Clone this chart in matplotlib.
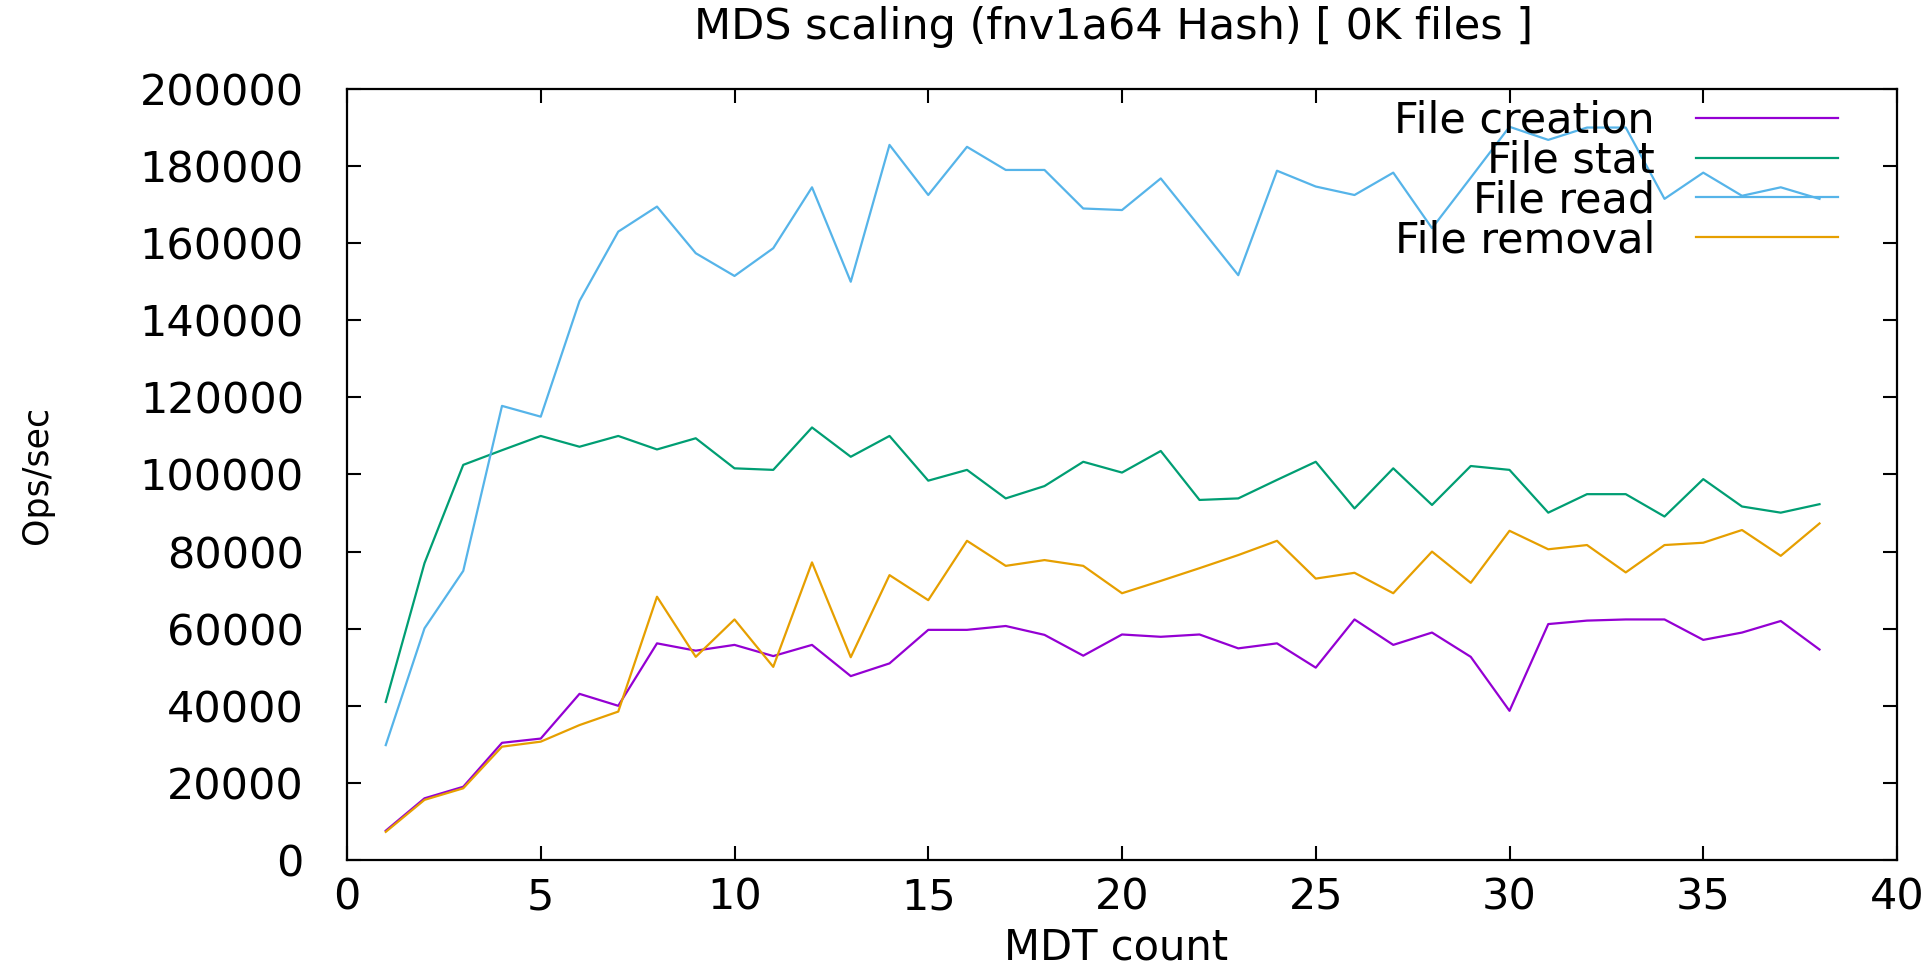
import matplotlib
matplotlib.use('Agg')
import matplotlib.pyplot as plt

# MDT count on x, ops/sec on y
mdt = list(range(1, 39))

creation = [7600, 16000, 19000, 30400, 31500, 43100, 40000, 56200, 54300, 55800,
            52900, 55800, 47700, 51000, 59700, 59700, 60700, 58400, 53000, 58500,
            57900, 58500, 54900, 56200, 49900, 62400, 55800, 59000, 52700, 38700,
            61200, 62100, 62400, 62400, 57100, 59000, 62000, 54600]
stat = [41000, 77000, 102500, 106300, 110000, 107200, 110000, 106500, 109400, 101600,
        101200, 112200, 104600, 110000, 98400, 101200, 93800, 97000, 103300, 100500,
        106100, 93400, 93800, 98600, 103300, 91200, 101600, 92100, 102200, 101200,
        90100, 94900, 94900, 89100, 98800, 91700, 90100, 92300]
read = [29800, 60100, 75000, 117800, 115000, 145000, 163000, 169500, 157400, 151500,
        158700, 174500, 150000, 185500, 172500, 185000, 179000, 179000, 169000, 168600,
        176800, 164300, 151700, 178800, 174700, 172500, 178300, 163900, 177000, 190200,
        186800, 190000, 190000, 171500, 178300, 172300, 174500, 171500]
removal = [7300, 15600, 18600, 29400, 30700, 35000, 38500, 68300, 52700, 62400,
           50100, 77200, 52600, 73900, 67400, 82800, 76300, 77800, 76300, 69200,
           72400, 75700, 79100, 82800, 73000, 74500, 69200, 80000, 71900, 85400,
           80600, 81700, 74600, 81700, 82300, 85600, 78900, 87300]

series_names = ['File creation', 'File stat', 'File read', 'File removal']
series_colors = ['#9400d3', '#009e73', '#56b4e9', '#e69f00']

xticks = list(range(0, 41, 5))
yticks = list(range(0, 200001, 20000))

plt.rcParams['font.family'] = ['DejaVu Sans']

fig = plt.figure(figsize=(19.33, 9.75), dpi=100)
ax = fig.add_axes([347 / 1933, 1 - 860 / 975, 1550 / 1933, 771 / 975])

for vals, name, col in zip([creation, stat, read, removal], series_names, series_colors):
    ax.plot(mdt, vals, color=col, lw=1.6, label=name)

ax.set_xlim(0, 40)
ax.set_ylim(0, 200000)
ax.set_xticks(xticks)
ax.set_yticks(yticks)
ax.set_xticklabels([str(t) for t in xticks])
ax.set_yticklabels([str(t) for t in yticks])
ax.tick_params(direction='in', length=10, width=1.5, top=True, right=True,
               labelsize=31, colors='black')
ax.tick_params(axis='y', pad=31)
ax.tick_params(axis='x', pad=12)
for s in ax.spines.values():
    s.set_linewidth(1.6)
    s.set_color('black')

fig.text(1114 / 1933, 1 - 27 / 975, 'MDS scaling (fnv1a64 Hash) [ 0K files ]',
         ha='center', va='center', fontsize=31)
ax.set_xlabel('MDT count', fontsize=30, va='center')
ax.xaxis.set_label_coords(0.496, -0.114)
ax.set_ylabel('Ops/sec', fontsize=25, va='center', ha='center')
ax.yaxis.set_label_coords(-0.2, 0.5)

leg = ax.legend(loc='upper right', bbox_to_anchor=(0.962, 0.986), frameon=False,
                markerfirst=False, fontsize=31, handlelength=3.3,
                handletextpad=0.95, labelspacing=-0.05, borderpad=0, borderaxespad=0)
# right-align the key texts like gnuplot
for col in leg._legend_handle_box.get_children():
    col.align = 'right'

fig.savefig('out.png', dpi=100, facecolor='white')
